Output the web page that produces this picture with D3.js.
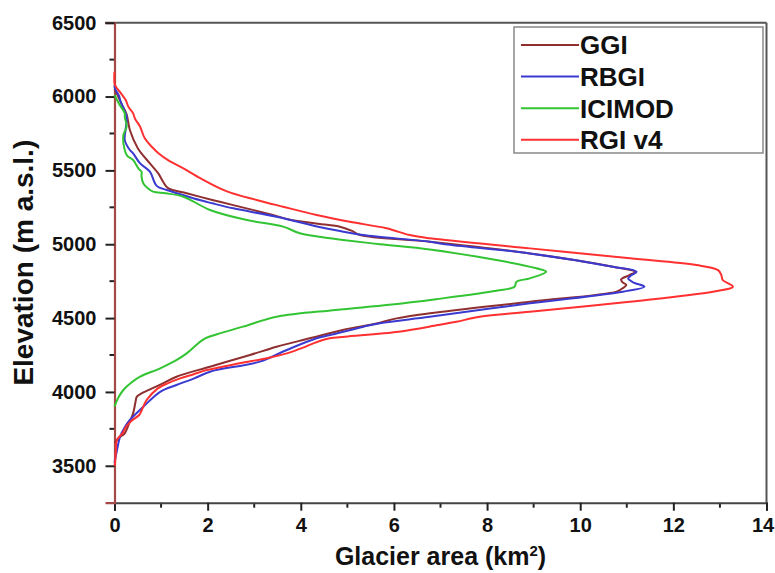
<!DOCTYPE html>
<html>
<head>
<meta charset="utf-8">
<script src="https://cdn.jsdelivr.net/npm/d3@7"></script>
<style>
  body { margin: 0; background: #fff; }
  text { font-family: "Liberation Sans", Arial, sans-serif; font-weight: bold; fill: #111; }
</style>
</head>
<body>
<div id="chart"></div>
<script>
// Glacier area (km2) per elevation band
var ggiElev = [3655, 3690, 3720, 3800, 3855, 3930, 3968, 3990, 4015, 4060, 4103, 4171, 4250, 4306, 4363, 4420, 4464, 4498, 4532, 4611, 4679, 4700, 4724, 4745, 4763, 4790, 4814, 4848, 4938, 5017, 5062, 5090, 5119, 5130, 5164, 5198, 5265, 5300, 5345, 5380, 5420, 5480, 5547, 5650, 5773, 5880, 5950, 6000, 6050];
var ggiArea = [0, 0.1, 0.22, 0.33, 0.40, 0.45, 0.48, 0.58, 0.75, 1.05, 1.33, 2.05, 2.91, 3.48, 4.19, 4.9, 5.63, 6.06, 6.77, 8.92, 10.78, 10.9, 10.99, 10.9, 10.88, 11.05, 11.17, 10.70, 8.92, 6.77, 5.27, 5.1, 4.84, 4.6, 3.8, 3.4, 2.55, 2.1, 1.55, 1.15, 1.05, 0.94, 0.76, 0.5, 0.33, 0.26, 0.15, 0.08, 0];

var rbgiElev = [3520, 3600, 3697, 3760, 3810, 3900, 4001, 4047, 4090, 4137, 4205, 4284, 4363, 4385, 4442, 4465, 4509, 4600, 4679, 4712, 4740, 4769, 4790, 4814, 4848, 4938, 5000, 5017, 5062, 5085, 5110, 5186, 5243, 5277, 5299, 5340, 5367, 5389, 5412, 5491, 5547, 5615, 5638, 5705, 5780, 5863, 5930, 5976, 6003, 6055, 6077];
var rbgiArea = [0, 0.05, 0.12, 0.22, 0.33, 0.62, 0.98, 1.33, 1.7, 2.05, 3.12, 3.70, 4.34, 4.63, 5.35, 5.70, 6.77, 8.92, 10.92, 11.38, 11.15, 11.03, 11.1, 11.21, 10.70, 8.92, 7.1, 6.77, 5.34, 4.91, 4.5, 3.48, 2.55, 2.1, 1.83, 1.4, 1.12, 0.93, 0.87, 0.76, 0.55, 0.40, 0.33, 0.22, 0.24, 0.26, 0.18, 0.12, 0.1, 0.01, 0];

var icimodElev = [3900, 3960, 4013, 4060, 4103, 4160, 4210, 4261, 4330, 4363, 4400, 4442, 4509, 4555, 4590, 4628, 4685, 4712, 4746, 4769, 4814, 4837, 4893, 4965, 5000, 5029, 5040, 5074, 5119, 5164, 5232, 5322, 5345, 5356, 5378, 5412, 5457, 5491, 5510, 5570, 5600, 5650, 5739, 5796, 5863, 5886, 5950, 6010];
var icimodArea = [0, 0.08, 0.19, 0.35, 0.55, 0.98, 1.3, 1.55, 1.8, 1.95, 2.3, 2.76, 3.48, 4.75, 5.9, 6.9, 8.20, 8.59, 8.63, 8.92, 9.27, 9.06, 8.20, 6.77, 5.7, 4.91, 4.63, 3.98, 3.62, 2.84, 2.05, 1.48, 1.1, 0.83, 0.72, 0.62, 0.58, 0.58, 0.52, 0.40, 0.27, 0.21, 0.19, 0.26, 0.22, 0.22, 0.1, 0];

var rgiElev = [3500, 3517, 3600, 3674, 3720, 3765, 3800, 3844, 3866, 3945, 4024, 4060, 4092, 4120, 4148, 4194, 4228, 4261, 4300, 4329, 4363, 4374, 4408, 4453, 4475, 4509, 4543, 4611, 4679, 4712, 4758, 4791, 4825, 4859, 4905, 4972, 5040, 5062, 5108, 5152, 5198, 5254, 5300, 5360, 5446, 5514, 5570, 5615, 5660, 5717, 5796, 5850, 5886, 5930, 5976, 6030, 6066, 6090, 6168];
var rgiArea = [0, 0.01, 0.03, 0.05, 0.17, 0.25, 0.35, 0.53, 0.57, 0.69, 0.93, 1.15, 1.41, 1.7, 1.98, 2.69, 3.27, 3.70, 4.05, 4.27, 4.62, 4.95, 6.1, 6.95, 7.34, 7.84, 8.92, 11.06, 12.85, 13.28, 13.06, 13.03, 12.96, 12.49, 11.07, 8.92, 6.77, 6.34, 5.84, 5.05, 4.34, 3.62, 3.05, 2.4, 1.85, 1.48, 1.15, 0.95, 0.8, 0.65, 0.55, 0.44, 0.40, 0.3, 0.24, 0.12, 0.03, 0, 0];

var seriesNames = ["GGI", "RBGI", "ICIMOD", "RGI v4"];
var seriesColors = ["#8f2f2f", "#3a3ad0", "#33c433", "#ff3030"];

var xTicks = [0, 2, 4, 6, 8, 10, 12, 14];
var yTicks = [3500, 4000, 4500, 5000, 5500, 6000, 6500];

var width = 775;
var height = 573;

function zip(elev, area) {
    return elev.map(function (e, i) { return { elev: e, area: area[i] }; });
}

var series = [
    zip(ggiElev, ggiArea),
    zip(rbgiElev, rbgiArea),
    zip(icimodElev, icimodArea),
    zip(rgiElev, rgiArea)
];

var svg = d3.select("#chart").append("svg")
    .attr("width", width)
    .attr("height", height);

var x = d3.scaleLinear().domain([0, 14]).range([114.5, 766.5]);
var y = d3.scaleLinear().domain([3250, 6500]).range([502.7, 22.7]);

// frame (top / right)
svg.append("line")
    .attr("x1", 105).attr("x2", x(14))
    .attr("y1", y(6500)).attr("y2", y(6500))
    .attr("stroke", "#555").attr("stroke-width", 2);
svg.append("line")
    .attr("x1", x(14)).attr("x2", x(14))
    .attr("y1", y(6500)).attr("y2", y(3250))
    .attr("stroke", "#555").attr("stroke-width", 2);

// minor ticks
svg.append("g").selectAll("line")
    .data(d3.range(1, 14, 2))
    .enter().append("line")
    .attr("x1", function (d) { return x(d); })
    .attr("x2", function (d) { return x(d); })
    .attr("y1", y(3250)).attr("y2", y(3250) + 5)
    .attr("stroke", "#222").attr("stroke-width", 2);
svg.append("g").selectAll("line")
    .data(d3.range(3750, 6500, 500))
    .enter().append("line")
    .attr("y1", function (d) { return y(d); })
    .attr("y2", function (d) { return y(d); })
    .attr("x1", x(0) - 5).attr("x2", x(0))
    .attr("stroke", "#222").attr("stroke-width", 2);

var xAxis = svg.append("g")
    .attr("transform", "translate(0," + y(3250) + ")")
    .call(d3.axisBottom(x).tickValues(xTicks).tickSize(8).tickPadding(7));
xAxis.select(".domain").attr("stroke", "#444").attr("stroke-width", 2);
xAxis.selectAll(".tick line").attr("stroke", "#222").attr("stroke-width", 2);
xAxis.selectAll("text").style("font-size", "20px").attr("fill", "#111");
// keep the last label inside the window
xAxis.selectAll("text").filter(function (d) { return d === 14; }).attr("dx", "-4px");

var yAxis = svg.append("g")
    .attr("transform", "translate(" + x(0) + ",0)")
    .call(d3.axisLeft(y).tickValues(yTicks).tickFormat(d3.format("d")).tickSize(9).tickPadding(9));
yAxis.select(".domain").attr("stroke", "#a44848").attr("stroke-width", 2.2);
yAxis.selectAll(".tick line").attr("stroke", "#222").attr("stroke-width", 2);
yAxis.selectAll("text").style("font-size", "20px").attr("fill", "#111");

var line = d3.line()
    .x(function (d) { return x(d.area); })
    .y(function (d) { return y(d.elev); })
    .curve(d3.curveCatmullRom.alpha(0.5));

svg.append("g").selectAll("path")
    .data(series)
    .enter().append("path")
    .attr("d", line)
    .attr("fill", "none")
    .attr("stroke", function (d, i) { return seriesColors[i]; })
    .attr("stroke-width", 2);

// legend
var legend = svg.append("g");
legend.append("rect")
    .attr("x", 514).attr("y", 27)
    .attr("width", 249).attr("height", 126)
    .attr("fill", "#fff")
    .attr("stroke", "#888").attr("stroke-width", 1.5);
var items = legend.selectAll("g.item")
    .data(seriesNames)
    .enter().append("g")
    .attr("class", "item")
    .attr("transform", function (d, i) { return "translate(0," + (45 + i * 31.6) + ")"; });
items.append("line")
    .attr("x1", 521).attr("x2", 579)
    .attr("stroke", function (d, i) { return seriesColors[i]; })
    .attr("stroke-width", 2);
items.append("text")
    .attr("x", 580).attr("dy", "0.36em")
    .style("font-size", "26px")
    .text(function (d) { return d; });

// axis titles
svg.append("text")
    .attr("transform", "translate(33," + ((y(6500) + y(3250)) / 2) + ") rotate(-90)")
    .attr("text-anchor", "middle")
    .style("font-size", "28px")
    .text("Elevation (m a.s.l.)");

var xt = svg.append("text")
    .attr("x", (x(0) + x(14)) / 2)
    .attr("y", 565)
    .attr("text-anchor", "middle")
    .style("font-size", "25px");
xt.append("tspan").text("Glacier area (km");
xt.append("tspan").attr("dy", -9).style("font-size", "15px").text("2");
xt.append("tspan").attr("dy", 9).text(")");
</script>
</body>
</html>
